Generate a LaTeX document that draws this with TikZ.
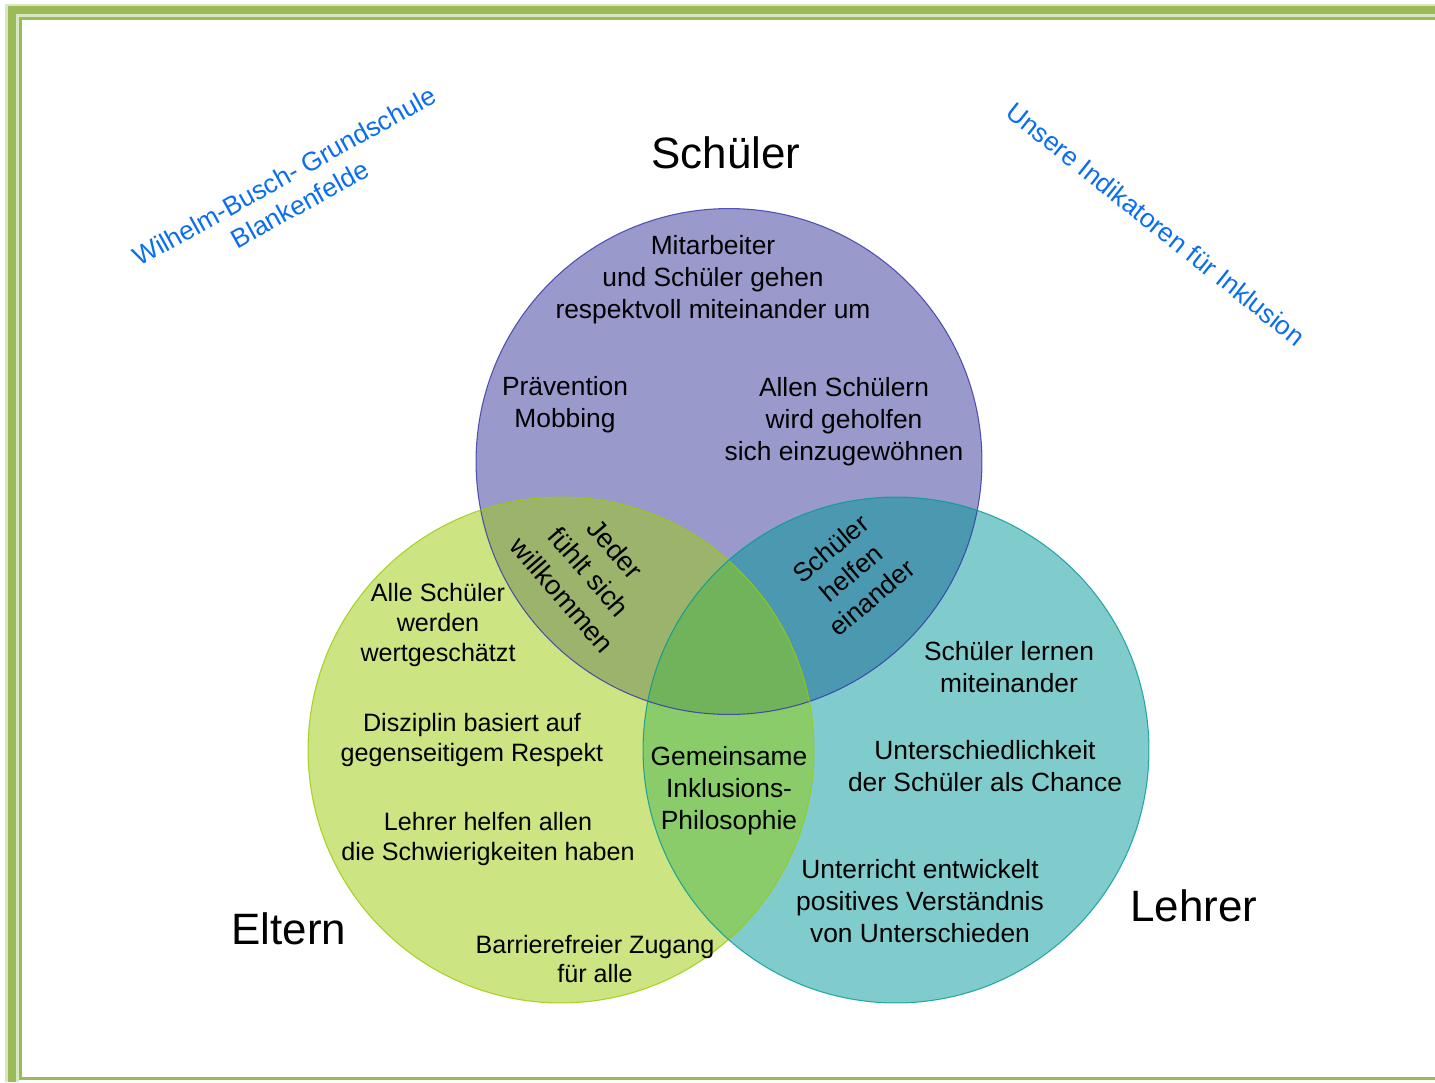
\documentclass[tikz,border=0pt]{standalone}
\usepackage{fontspec}
\setmainfont{Liberation Sans}
\definecolor{frame}{HTML}{9BBB59}
\definecolor{framepale}{HTML}{D9E6C2}
\definecolor{sOnly}{HTML}{9999CC}
\definecolor{eOnly}{HTML}{CCE482}
\definecolor{lOnly}{HTML}{80CCCC}
\definecolor{seCol}{HTML}{9BB36B}
\definecolor{slCol}{HTML}{4A99B0}
\definecolor{elCol}{HTML}{8ACC6A}
\definecolor{selCol}{HTML}{70B35A}
\definecolor{sLine}{HTML}{3333AA}
\definecolor{eLine}{HTML}{99CC00}
\definecolor{lLine}{HTML}{009999}
\definecolor{bluetxt}{HTML}{0A6EF0}
\tikzset{
  lbl/.style={font=\fontsize{15}{18.2}\selectfont, align=center, inner sep=0pt},
  lblE/.style={font=\fontsize{14.3}{17}\selectfont, align=center, inner sep=0pt},
  ttl/.style={font=\fontsize{25}{30}\selectfont, inner sep=0pt},
  bluelbl/.style={font=\fontsize{15}{18.2}\selectfont, text=bluetxt, align=center, inner sep=0pt}
}
\begin{document}
\begin{tikzpicture}[x=0.02cm,y=-0.02cm]
\useasboundingbox (0,0) rectangle (1435,1082);
% frame
\fill[framepale] (5,4) rectangle (1435,17);
\fill[framepale] (5,4) rectangle (19,1082);
\fill[frame] (8,6) rectangle (1435,14);
\fill[frame] (8,6) rectangle (16,1082);
\fill[frame] (19,17) rectangle (1435,19.5);
\fill[frame] (19,17) rectangle (22,1080);
\fill[frame] (19,1077) rectangle (1435,1080);
% circles
\coordinate (cS) at (729,461.5);
\coordinate (cE) at (561,750);
\coordinate (cL) at (896,750);
\fill[sOnly] (cS) circle (5.06cm);
\fill[eOnly] (cE) circle (5.06cm);
\fill[lOnly] (cL) circle (5.06cm);
\begin{scope}\clip (cS) circle (5.06cm); \fill[seCol] (cE) circle (5.06cm); \end{scope}
\begin{scope}\clip (cS) circle (5.06cm); \fill[slCol] (cL) circle (5.06cm); \end{scope}
\begin{scope}\clip (cE) circle (5.06cm); \fill[elCol] (cL) circle (5.06cm); \end{scope}
\begin{scope}\clip (cS) circle (5.06cm); \clip (cE) circle (5.06cm); \fill[selCol] (cL) circle (5.06cm); \end{scope}
\draw[sLine, line width=0.6pt, draw opacity=0.8] (cS) circle (5.06cm);
\draw[eLine, line width=0.6pt, draw opacity=0.8] (cE) circle (5.06cm);
\draw[lLine, line width=0.6pt, draw opacity=0.8] (cL) circle (5.06cm);
% titles
\node[ttl] (tS) at (726,153) {Schüler};
\node[ttl] (tE) at (289,929) {Eltern};
\node[ttl] (tL) at (1194,906) {Lehrer};
% blue texts
\node[bluelbl, rotate=29] (school) at (292,190) {Wilhelm-Busch- Grundschule\\Blankenfelde};
\node[bluelbl, rotate=-38.5] (indik) at (1156,224) {Unsere Indikatoren für Inklusion};
% Schüler texts
\node[lbl] (s1) at (713,280) {Mitarbeiter\\und Schüler gehen\\respektvoll miteinander um};
\node[lbl] (s2) at (565,405) {Prävention\\Mobbing};
\node[lbl] (s3) at (844,422) {Allen Schülern\\wird geholfen\\sich einzugewöhnen};
% overlaps
\node[lbl, rotate=-49, font=\fontsize{15.5}{20}\selectfont] (se) at (589,572) {Jeder\\fühlt sich\\willkommen};
\node[lbl, rotate=40] (sl) at (851,573) {Schüler\\helfen\\einander};
\node[lbl] (sel) at (729,791) {Gemeinsame\\Inklusions-\\Philosophie};
% Eltern texts
\node[lblE] (e1) at (438,625) {Alle Schüler\\werden\\wertgeschätzt};
\node[lblE] (e2) at (472,740) {Disziplin basiert auf\\gegenseitigem Respekt};
\node[lblE] (e3) at (488,839) {Lehrer helfen allen\\die Schwierigkeiten haben};
\node[lblE] (e4) at (595,959) {Barrierefreier Zugang\\für alle};
% Lehrer texts
\node[lbl] (l1) at (1009,667) {Schüler lernen\\miteinander};
\node[lbl] (l2) at (985,766) {Unterschiedlichkeit\\der Schüler als Chance};
\node[lbl] (l3) at (920,901) {Unterricht entwickelt\\positives Verständnis\\von Unterschieden};
\end{tikzpicture}
\end{document}
